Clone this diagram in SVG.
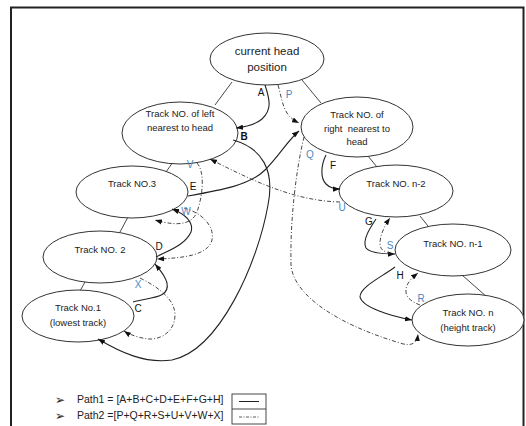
<svg xmlns="http://www.w3.org/2000/svg" width="526" height="426" viewBox="0 0 526 426">
<style>
.node ellipse{fill:#fff;stroke:#333;stroke-width:1}
.nt{font-family:"Liberation Sans",Arial,sans-serif;font-size:9.5px;fill:#222;text-anchor:middle}
.edge{stroke:#333;stroke-width:0.9;fill:none}
.p1{stroke:#222;stroke-width:1.1;fill:none;marker-end:url(#ah)}
.p2{stroke:#333;stroke-width:0.9;fill:none;stroke-dasharray:4 2 1 2;marker-end:url(#ah)}
.lb{font-family:"Liberation Sans",Arial,sans-serif;font-size:10px;fill:#111;text-anchor:middle}
.lbb{font-family:"Liberation Sans",Arial,sans-serif;font-size:10px;fill:#4f86c0;text-anchor:middle}
.lg{font-family:"Liberation Sans",Arial,sans-serif;font-size:10.5px;fill:#222}
.bul{font-family:"DejaVu Sans",sans-serif;font-size:12px;fill:#222}
</style>
<defs>
<marker id="ah" viewBox="0 0 8 6" refX="8" refY="3" markerWidth="7" markerHeight="5.5" orient="auto" markerUnits="userSpaceOnUse"><path d="M0,0 L8,3 L0,6 z" fill="#111"/></marker>
</defs>
<rect x="11" y="7.5" width="512.5" height="425" fill="none" stroke="#222" stroke-width="2"/>
<g id="tree-edges">
<line class="edge" x1="232" y1="82" x2="215" y2="105"/>
<line class="edge" x1="302" y1="80" x2="321" y2="103"/>
<line class="edge" x1="173" y1="162" x2="166" y2="172"/>
<line class="edge" x1="128" y1="217" x2="120" y2="232"/>
<line class="edge" x1="85" y1="282" x2="80" y2="291"/>
<line class="edge" x1="368" y1="156" x2="377" y2="167"/>
<line class="edge" x1="420" y1="216" x2="428" y2="226"/>
<line class="edge" x1="462" y1="275" x2="487" y2="297"/>
</g>
<g id="n-head" class="node"><ellipse cx="267" cy="59" rx="57" ry="26"/><text class="nt" style="font-size:11.5px" x="267" y="55">current head</text><text class="nt" style="font-size:11.5px" x="267" y="71">position</text></g>
<g id="n-left" class="node"><ellipse cx="180" cy="133" rx="58" ry="31"/><text class="nt" x="180" y="117">Track NO. of left</text><text class="nt" x="180" y="131">nearest to head</text></g>
<g id="n-right" class="node"><ellipse cx="357" cy="127" rx="56" ry="30"/><text class="nt" x="357" y="118">Track NO. of</text><text class="nt" x="357" y="132" xml:space="preserve">right  nearest to</text><text class="nt" x="357" y="145">head</text></g>
<g id="n-3" class="node"><ellipse cx="132" cy="192" rx="56" ry="26"/><text class="nt" x="132" y="187">Track NO.3</text></g>
<g id="n-2" class="node"><ellipse cx="100" cy="257" rx="57" ry="26"/><text class="nt" x="100" y="253">Track NO. 2</text></g>
<g id="n-1" class="node"><ellipse cx="78" cy="316" rx="56" ry="26"/><text class="nt" x="78" y="311">Track No.1</text><text class="nt" x="78" y="326">(lowest track)</text></g>
<g id="n-nm2" class="node"><ellipse cx="396" cy="191" rx="57" ry="26"/><text class="nt" x="396" y="187">Track NO. n-2</text></g>
<g id="n-nm1" class="node"><ellipse cx="453" cy="250" rx="58" ry="26"/><text class="nt" x="453" y="247">Track NO. n-1</text></g>
<g id="n-n" class="node"><ellipse cx="468" cy="320" rx="56" ry="26"/><text class="nt" x="468" y="316">Track NO. n</text><text class="nt" x="468" y="331">(height track)</text></g>
<g id="connectors">
<path class="p1" d="M265,85 C270,100 272,110 262,119 C255,125 245,127 236,128"/>
<path class="p1" d="M233,140 C262,148 275,170 268,205 C258,262 220,350 172,360 C145,364 120,352 98,339"/>
<path class="p1" d="M133,302 C152,297 170,298 167,283 C165,275 160,270 155,264"/>
<path class="p1" d="M156,257 C170,250 185,245 191,232 C194,222 185,214 172,209"/>
<path class="p1" d="M188,196 C222,190 250,185 265,170 C280,155 288,140 299,131"/>
<path class="p1" d="M326,155 C321,165 320,178 326,184 C330,188 335,189 340,189"/>
<path class="p1" d="M376,219 C370,228 362,240 366,248 C370,253 383,254 395,254"/>
<path class="p1" d="M395,267 C380,278 360,287 360,297 C362,307 390,316 412,320"/>
<path class="p2" d="M278,85 C281,95 282,105 287,113 C291,119 295,121 299,123"/>
<path class="p2" d="M304,137 C296,170 290,220 291,265 C293,292 330,322 400,343 C412,347 417,343 418,334"/>
<path class="p2" d="M420,305 C412,302 405,297 406,290 C406,283 413,277 418,273"/>
<path class="p2" d="M391,253 C384,252 380,250 380,243 C380,235 385,225 390,218"/>
<path class="p2" d="M340,202 C300,201 262,186 210,159"/>
<path class="p2" d="M197,163 C205,172 203,195 197,212 C193,222 182,228 155,220"/>
<path class="p2" d="M184,208 C200,212 215,225 212,240 C208,255 185,258 157,259"/>
<path class="p2" d="M140,278 C160,288 175,300 175,315 C175,332 160,340 148,339 C140,338 130,335 124,331"/>
</g>
<g id="labels">
<text class="lb" x="261" y="96">A</text>
<text class="lb" x="244" y="140" font-weight="bold">B</text>
<text class="lb" x="138" y="312">C</text>
<text class="lb" x="159" y="250">D</text>
<text class="lb" x="193" y="190">E</text>
<text class="lb" x="333" y="169">F</text>
<text class="lb" x="369" y="225">G</text>
<text class="lb" x="400" y="279">H</text>
<text class="lbb" x="289" y="98">P</text>
<text class="lbb" x="310" y="158">Q</text>
<text class="lbb" x="421" y="302">R</text>
<text class="lbb" x="390" y="249">S</text>
<text class="lbb" x="342" y="211">U</text>
<text class="lbb" x="190" y="168">V</text>
<text class="lbb" x="186" y="215">W</text>
<text class="lbb" x="138" y="288">X</text>
</g>
<g id="legend">
<text class="bul" x="55" y="404">➢</text>
<text class="lg" x="77" y="403">Path1 = [A+B+C+D+E+F+G+H]</text>
<text class="bul" x="55" y="420">➢</text>
<text class="lg" x="77" y="419">Path2 =[P+Q+R+S+U+V+W+X]</text>
<rect x="232" y="394" width="34" height="30" fill="none" stroke="#333" stroke-width="0.9"/>
<line x1="232" y1="409" x2="266" y2="409" stroke="#333" stroke-width="0.9"/>
<line x1="239" y1="401.5" x2="259" y2="401.5" stroke="#222" stroke-width="1"/>
<line x1="239" y1="417" x2="259" y2="417" stroke="#333" stroke-width="0.8" stroke-dasharray="3 1.5 1 1.5"/>
</g>
</svg>
